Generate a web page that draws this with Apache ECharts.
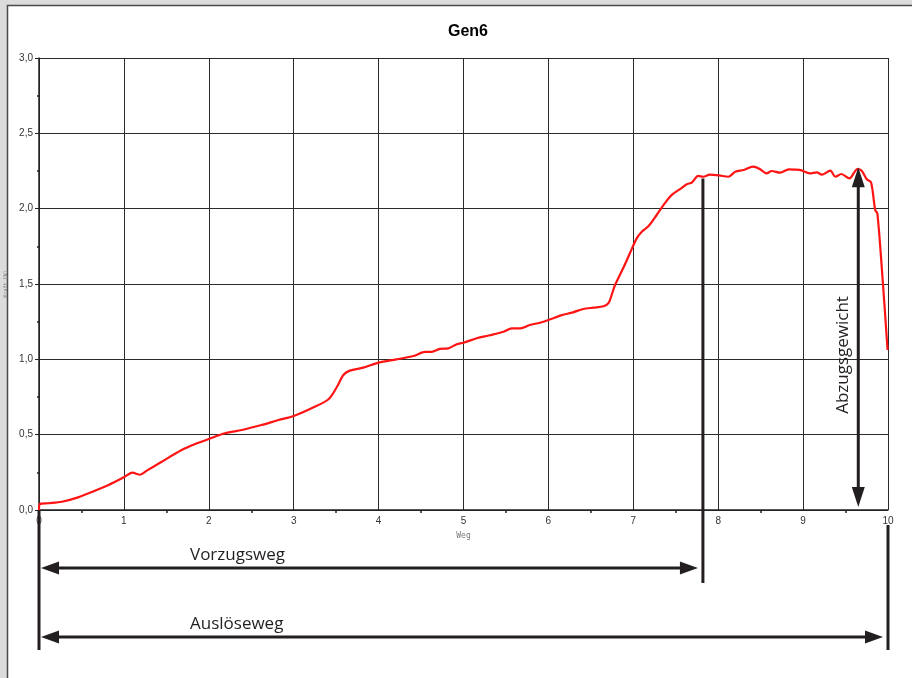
<!DOCTYPE html>
<html>
<head>
<meta charset="utf-8">
<style>
  html, body { margin: 0; padding: 0; background: #dcdcdc; }
  #chart { width: 912px; height: 678px; }
</style>
<script src="https://cdn.jsdelivr.net/npm/echarts@6/dist/echarts.min.js"></script>
</head>
<body>
<div id="chart"></div>
<script>
// Travel (Weg) and force readings of the trigger measurement
const weg = [
  0, 0.01, 0.11, 0.27, 0.46, 0.66, 0.82, 1.0, 1.10, 1.19, 1.27, 1.445, 1.68, 1.84,
  2.0, 2.19, 2.39, 2.62, 2.82, 3.0, 3.21, 3.41, 3.51, 3.585, 3.66, 3.82,
  4.0, 4.21, 4.41, 4.55, 4.625, 4.72, 4.82, 4.92, 5.0, 5.155, 5.31, 5.47, 5.57, 5.67,
  5.78, 5.90, 6.0, 6.14, 6.29, 6.41, 6.53, 6.65, 6.71, 6.745, 6.785, 6.88, 6.96,
  7.04, 7.10, 7.18, 7.275, 7.37, 7.45, 7.55, 7.63, 7.69, 7.765, 7.825, 7.90,
  8.01, 8.12, 8.20, 8.30, 8.41, 8.49, 8.57, 8.63, 8.73, 8.83, 8.96, 9.08, 9.16,
  9.22, 9.32, 9.38, 9.45, 9.545, 9.64, 9.69, 9.75, 9.80, 9.85, 9.875, 9.94, 9.995
];
const kraft = [
  0, 0.04, 0.045, 0.055, 0.084, 0.128, 0.166, 0.217, 0.248, 0.234, 0.261, 0.32, 0.398, 0.438,
  0.471, 0.509, 0.531, 0.564, 0.597, 0.624, 0.675, 0.735, 0.818, 0.896, 0.925, 0.945,
  0.978, 1.0, 1.022, 1.049, 1.049, 1.069, 1.073, 1.10, 1.11, 1.14, 1.16, 1.183, 1.206, 1.206,
  1.228, 1.243, 1.261, 1.29, 1.312, 1.334, 1.343, 1.352, 1.375, 1.427, 1.493, 1.604, 1.704,
  1.803, 1.847, 1.885, 1.958, 2.035, 2.09, 2.13, 2.162, 2.173, 2.217, 2.212, 2.226,
  2.221, 2.212, 2.245, 2.257, 2.279, 2.263, 2.234, 2.25, 2.239, 2.261, 2.257, 2.234, 2.241,
  2.226, 2.252, 2.212, 2.23, 2.201, 2.263, 2.252, 2.195, 2.175, 1.99, 1.969, 1.505, 1.062
];

// Marked travel and weight points (axis units)
const vorzugswegEnde = 7.82;
const abzugPosition = 9.65;
const abzugGewicht = 2.275;
const wegMax = 10;

const titleText = 'Gen6';
const xAxisName = 'Weg';
const yAxisName = 'Kraft [N]';
const labelVorzug = 'Vorzugsweg';
const labelAusloese = 'Auslöseweg';
const labelAbzug = 'Abzugsgewicht';

const chart = echarts.init(document.getElementById('chart'), null, { renderer: 'canvas' });

const ink = '#231f20';
const gridColor = '#2a2a2a';

chart.setOption({
  backgroundColor: '#dcdcdc',
  animation: false,
  title: {
    text: titleText,
    left: 463, top: 19, textAlign: 'center',
    textStyle: { fontFamily: 'Liberation Sans', fontWeight: 'bold', fontSize: 16, color: '#000' }
  },
  grid: { left: 39, right: 24, top: 58, bottom: 168, containLabel: false, outerBoundsMode: 'none' },
  xAxis: {
    type: 'value', min: 0, max: 10, interval: 1,
    name: xAxisName, nameLocation: 'middle', nameGap: 22,
    nameTextStyle: { fontFamily: 'DejaVu Sans Mono', fontSize: 8, color: '#777' },
    axisLine: { lineStyle: { color: '#222', width: 1.5 } },
    axisTick: { show: false },
    minorTick: { show: true, splitNumber: 2, length: 3, lineStyle: { color: '#222', width: 1.5 } },
    axisLabel: { fontFamily: 'Liberation Sans', fontSize: 10, color: '#333', margin: 6 },
    splitLine: { show: true, lineStyle: { color: gridColor, width: 1 } }
  },
  yAxis: {
    type: 'value', min: 0, max: 3, interval: 0.5,
    name: yAxisName, nameLocation: 'middle', nameGap: 31,
    nameTextStyle: { fontFamily: 'DejaVu Sans Mono', fontSize: 5, color: '#777' },
    axisLine: { show: true, lineStyle: { color: '#222', width: 1.5 } },
    axisTick: { show: true, length: 4, lineStyle: { color: '#222' } },
    minorTick: { show: true, splitNumber: 2, length: 2, lineStyle: { color: '#222', width: 1.5 } },
    axisLabel: {
      fontFamily: 'Liberation Sans', fontSize: 10, color: '#333', margin: 6,
      formatter: v => v.toFixed(1).replace('.', ',')
    },
    splitLine: { show: true, lineStyle: { color: gridColor, width: 1 } }
  },
  series: [{
    type: 'line',
    data: weg.map((w, i) => [w, kraft[i]]),
    showSymbol: false,
    smooth: 0.3,
    lineStyle: { color: '#ff1414', width: 2.2 },
    z: 5
  }]
});

// Frame, dimension lines and captions, placed from axis coordinates
function px(x, y) { return chart.convertToPixel({ gridIndex: 0 }, [x, y]); }

function arrowHead(tipX, tipY, dir, len, half) {
  // dir: 'left' | 'right' | 'up' | 'down'
  let pts;
  if (dir === 'right') pts = [[tipX, tipY], [tipX - len, tipY - half], [tipX - len, tipY + half]];
  else if (dir === 'left') pts = [[tipX, tipY], [tipX + len, tipY - half], [tipX + len, tipY + half]];
  else if (dir === 'up') pts = [[tipX, tipY], [tipX - half, tipY + len], [tipX + half, tipY + len]];
  else pts = [[tipX, tipY], [tipX - half, tipY - len], [tipX + half, tipY - len]];
  return { type: 'polygon', shape: { points: pts }, style: { fill: ink }, z: 20 };
}
function seg(x1, y1, x2, y2, w) {
  return { type: 'line', shape: { x1, y1, x2, y2 }, style: { stroke: ink, lineWidth: w }, z: 20 };
}

const origin = px(0, 0);
const endX = px(wegMax, 0)[0];
const vorzTop = px(vorzugswegEnde, 2.2);
const abzTop = px(abzugPosition, abzugGewicht);
const abzBottom = px(abzugPosition, 0.02);
const axisY = origin[1];

const rowVorzug = axisY + 58;
const rowAusloese = axisY + 127;

const g = [];
// white sheet with a dark edge
g.push({ type: 'rect', shape: { x: 7.5, y: 5.5, width: 912, height: 680 },
  style: { fill: '#fff', stroke: '#4a4a4a', lineWidth: 1.5 }, z: -10, silent: true });

// Vorzugsweg
g.push(seg(vorzTop[0], vorzTop[1], vorzTop[0], axisY + 73, 3));
g.push(seg(origin[0] + 8, rowVorzug, vorzTop[0] - 12, rowVorzug, 3));
g.push(arrowHead(origin[0] + 2, rowVorzug, 'left', 18, 6.5));
g.push(arrowHead(vorzTop[0] - 5, rowVorzug, 'right', 18, 6.5));

// Auslöseweg
g.push(seg(origin[0], axisY, origin[0], axisY + 140, 3));
g.push(seg(endX, axisY + 15, endX, axisY + 140, 3));
g.push(seg(origin[0] + 8, rowAusloese, endX - 12, rowAusloese, 3));
g.push(arrowHead(origin[0] + 2, rowAusloese, 'left', 18, 6.5));
g.push(arrowHead(endX - 5, rowAusloese, 'right', 18, 6.5));

// Abzugsgewicht
g.push(seg(abzTop[0], abzTop[1] + 10, abzTop[0], abzBottom[1] - 10, 3));
g.push(arrowHead(abzTop[0], abzTop[1], 'up', 20, 6.5));
g.push(arrowHead(abzBottom[0], abzBottom[1], 'down', 20, 6.5));

const capStyle = { fill: ink, fontFamily: 'Open Sans', fontSize: 17 };
g.push({ type: 'text', x: 190, y: rowVorzug - 4,
  style: Object.assign({ text: labelVorzug, textVerticalAlign: 'bottom' }, capStyle), z: 20 });
g.push({ type: 'text', x: 190, y: rowAusloese - 4,
  style: Object.assign({ text: labelAusloese, textVerticalAlign: 'bottom' }, capStyle), z: 20 });
g.push({ type: 'text', x: abzTop[0] - 15, y: 355, rotation: Math.PI / 2,
  style: Object.assign({ text: labelAbzug, textAlign: 'center', textVerticalAlign: 'middle' }, capStyle), z: 20 });

chart.setOption({ graphic: g });
</script>
</body>
</html>
